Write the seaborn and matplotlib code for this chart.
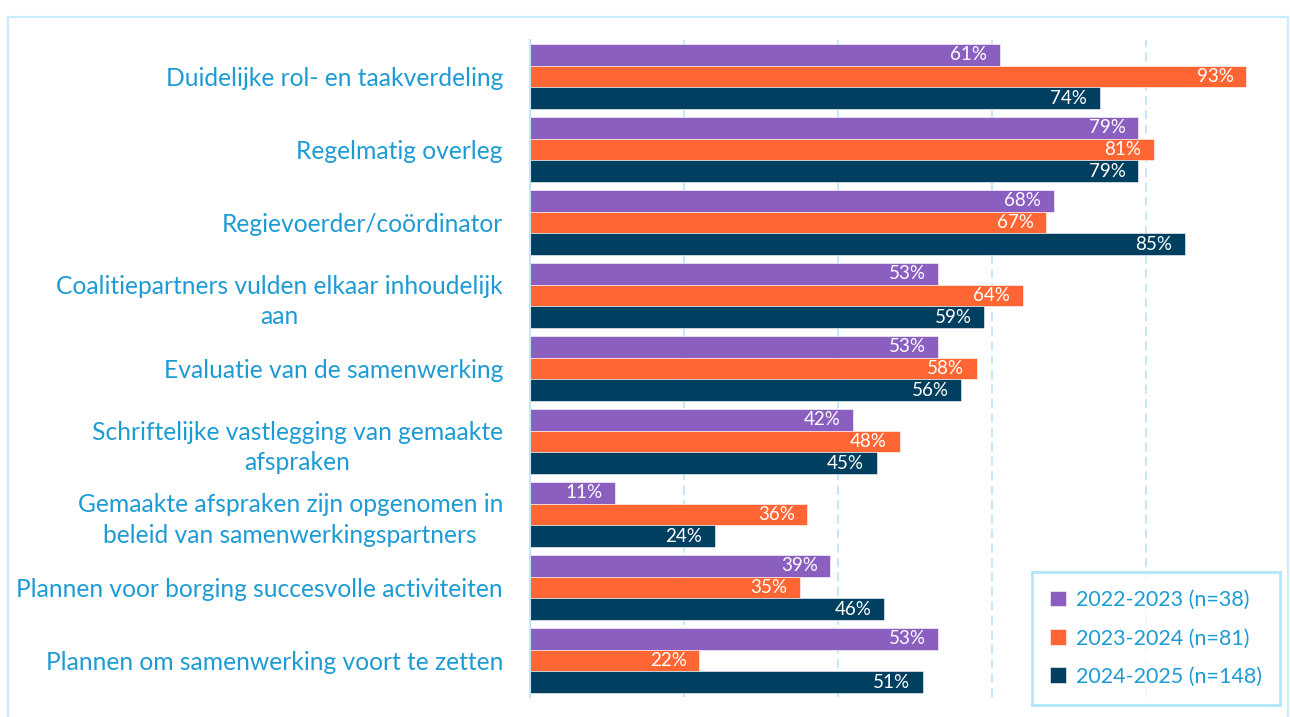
import numpy as np
import pandas as pd
import matplotlib
matplotlib.use('Agg')
import matplotlib.pyplot as plt
import seaborn as sns
from matplotlib.patches import Rectangle

categories = [
    'Duidelijke rol- en taakverdeling',
    'Regelmatig overleg',
    'Regievoerder/coördinator',
    'Coalitiepartners vulden elkaar inhoudelijk\naan',
    'Evaluatie van de samenwerking',
    'Schriftelijke vastlegging van gemaakte\nafspraken',
    'Gemaakte afspraken zijn opgenomen in\nbeleid van samenwerkingspartners',
    'Plannen voor borging succesvolle activiteiten',
    'Plannen om samenwerking voort te zetten',
]
years = ['2022-2023 (n=38)', '2023-2024 (n=81)', '2024-2025 (n=148)']
vals_2223 = [61, 79, 68, 53, 53, 42, 11, 39, 53]
vals_2324 = [93, 81, 67, 64, 58, 48, 36, 35, 22]
vals_2425 = [74, 79, 85, 59, 56, 45, 24, 46, 51]
colors = ['#8a5fc0', '#ff6633', '#003f5f']

df = pd.DataFrame({
    'categorie': categories * 3,
    'jaar': [years[0]] * 9 + [years[1]] * 9 + [years[2]] * 9,
    'pct': vals_2223 + vals_2324 + vals_2425,
})

sns.set_style('white')
plt.rcParams['font.family'] = ['Lato', 'DejaVu Sans']
label_blue = '#1d9bd4'
grid_blue = '#bfe6f7'

W, H = 1290, 717
fig = plt.figure(figsize=(W / 100, H / 100), dpi=100)
ax = fig.add_axes([530 / W, (H - 697) / H, 1 - 530 / W, 657 / H])

sns.barplot(data=df, y='categorie', x='pct', hue='jaar', hue_order=years,
            palette=colors, width=0.9, orient='h', ax=ax, saturation=1,
            edgecolor='white', linewidth=0.4)

ax.set_xlim(0, 98.7)
ax.set_ylim(8.5, -0.5)
ax.set_xticks([20, 40, 60, 80])
ax.xaxis.grid(True, color=grid_blue, linestyle=(0, (5, 3)), linewidth=1.3)
ax.set_axisbelow(True)
ax.tick_params(axis='x', bottom=False, labelbottom=False)
ax.tick_params(axis='y', left=False, pad=16, labelsize=17.7, labelcolor=label_blue)
for t in ax.get_yticklabels():
    t.set_multialignment('center')
    t.set_linespacing(1.4)
ax.set_xlabel('')
ax.set_ylabel('')
for s in ['top', 'right', 'bottom']:
    ax.spines[s].set_visible(False)
ax.spines['left'].set_color(grid_blue)
ax.spines['left'].set_linewidth(1.5)

for cont in ax.containers:
    for bar, v in zip(cont, cont.datavalues):
        ax.annotate(f'{int(v)}%', (bar.get_width(), bar.get_y() + bar.get_height() / 2),
                    xytext=(-9, 0), textcoords='offset points', ha='right', va='center',
                    color='white', fontsize=13.5)

leg = ax.legend(loc='lower right', bbox_to_anchor=(1280 / W, (H - 705) / H),
                bbox_transform=fig.transFigure, frameon=True,
                fontsize=15.5, labelcolor=label_blue, handlelength=0.75,
                handleheight=0.75, handletextpad=0.45, labelspacing=0.85,
                borderpad=0.85, borderaxespad=0, fancybox=False)
leg.get_frame().set_edgecolor('#9fe0f8')
leg.get_frame().set_linewidth(2)

fig.patches.append(Rectangle((8 / W, -0.01), 1 - 10 / W, 1 - 17 / H + 0.01,
                             transform=fig.transFigure, fill=False,
                             edgecolor='#c8ecfa', linewidth=1.5))

fig.savefig('out.png', dpi=100)
